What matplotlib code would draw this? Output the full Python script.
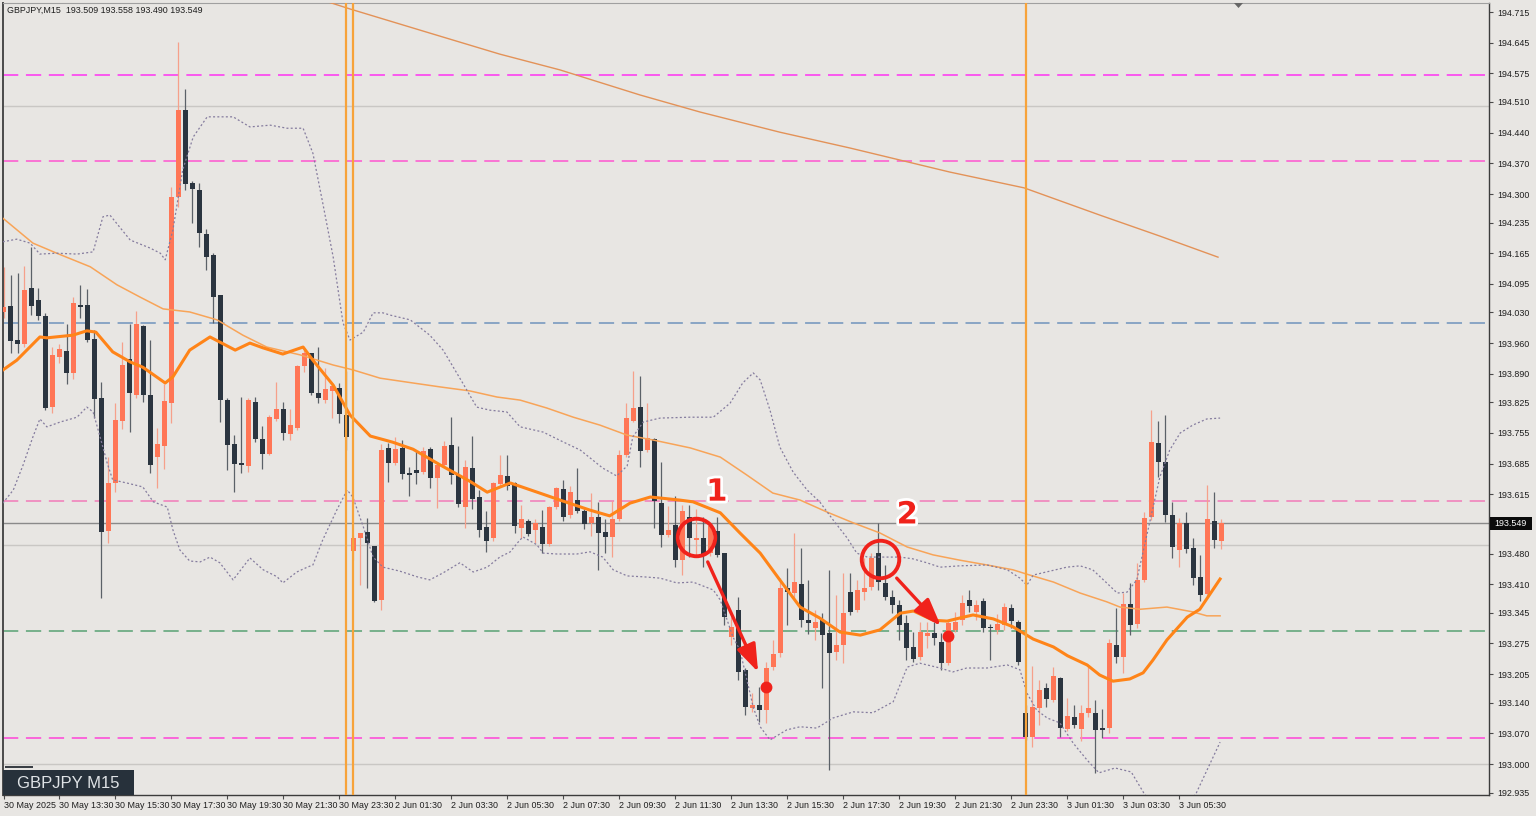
import matplotlib
matplotlib.use("Agg")
import matplotlib.pyplot as plt
import matplotlib.patheffects as pe
from matplotlib.patches import Rectangle, FancyArrowPatch, Polygon

# GBPJPY M15, bar 0 = 30 May 11:30, one bar every 15 minutes (weekend skipped)
opens = [194.031, 194.044, 193.967, 193.958, 194.086, 194.058, 194.022, 193.814, 193.928, 193.942,
         193.892, 194.047, 194.047, 193.969, 193.835, 193.531, 193.641, 193.782, 193.924, 193.842,
         193.999, 193.842, 193.700, 193.725, 193.823, 194.293, 194.492, 194.325, 194.309, 194.209,
         194.161, 194.070, 193.830, 193.730, 193.687, 193.680, 193.826, 193.741, 193.707, 193.787,
         193.810, 193.753, 193.766, 193.908, 193.937, 193.846, 193.830, 193.851, 193.858, 193.796,
         193.486, 193.516, 193.529, 193.497, 193.374, 193.721, 193.687, 193.721, 193.664, 193.671,
         193.666, 193.718, 193.652, 193.682, 193.728, 193.659, 193.586, 193.675, 193.609, 193.541,
         193.516, 193.639, 193.657, 193.641, 193.538, 193.554, 193.534, 193.541, 193.502, 193.586,
         193.627, 193.568, 193.602, 193.577, 193.550, 193.563, 193.529, 193.518, 193.559, 193.705,
         193.782, 193.814, 193.716, 193.741, 193.595, 193.522, 193.545, 193.465, 193.563, 193.511,
         193.516, 193.481, 193.532, 193.481, 193.290, 193.351, 193.215, 193.128, 193.135, 193.123,
         193.221, 193.253, 193.402, 193.390, 193.411, 193.328, 193.310, 193.328, 193.299, 193.256,
         193.272, 193.393, 193.351, 193.393, 193.404, 193.481, 193.413, 193.381, 193.363, 193.322,
         193.267, 193.244, 193.292, 193.299, 193.278, 193.230, 193.306, 193.328, 193.374, 193.347,
         193.372, 193.313, 193.306, 193.317, 193.356, 193.324, 193.116, 193.062, 193.128, 193.174,
         193.146, 193.196, 193.080, 193.107, 193.080, 193.116, 193.116, 193.082, 193.082, 193.272,
         193.244, 193.365, 193.319, 193.420, 193.563, 193.732, 193.689, 193.568, 193.488, 193.550,
         193.493, 193.427, 193.388, 193.554, 193.509]
highs = [194.134, 194.115, 194.120, 194.136, 194.179, 194.086, 194.029, 193.951, 193.958, 194.004,
         194.065, 194.092, 194.083, 193.990, 193.871, 193.700, 193.823, 193.962, 194.004, 194.033,
         194.001, 193.967, 193.766, 193.867, 194.316, 194.647, 194.539, 194.330, 194.325, 194.220,
         194.165, 194.070, 193.835, 193.750, 193.837, 193.835, 193.837, 193.771, 193.796, 193.871,
         193.826, 193.810, 193.910, 193.949, 193.937, 193.951, 193.903, 193.869, 193.869, 193.896,
         193.523, 193.527, 193.561, 193.497, 193.730, 193.732, 193.746, 193.739, 193.677, 193.714,
         193.723, 193.723, 193.687, 193.737, 193.791, 193.725, 193.693, 193.748, 193.625, 193.577,
         193.643, 193.705, 193.705, 193.643, 193.591, 193.559, 193.559, 193.579, 193.589, 193.632,
         193.648, 193.634, 193.675, 193.582, 193.618, 193.598, 193.559, 193.600, 193.716, 193.823,
         193.896, 193.885, 193.823, 193.744, 193.689, 193.589, 193.611, 193.591, 193.591, 193.582,
         193.563, 193.547, 193.563, 193.481, 193.335, 193.381, 193.219, 193.162, 193.176, 193.233,
         193.283, 193.424, 193.447, 193.527, 193.493, 193.420, 193.351, 193.344, 193.443, 193.385,
         193.436, 193.436, 193.420, 193.470, 193.481, 193.550, 193.454, 193.397, 193.374, 193.340,
         193.301, 193.324, 193.324, 193.324, 193.299, 193.328, 193.347, 193.385, 193.397, 193.374,
         193.379, 193.319, 193.342, 193.367, 193.365, 193.328, 193.135, 193.224, 193.192, 193.185,
         193.221, 193.199, 193.151, 193.135, 193.135, 193.221, 193.146, 193.126, 193.285, 193.356,
         193.390, 193.413, 193.459, 193.575, 193.807, 193.782, 193.796, 193.598, 193.561, 193.575,
         193.516, 193.477, 193.636, 193.620, 193.558]
lows = [194.017, 193.937, 193.937, 193.951, 194.024, 194.013, 193.807, 193.800, 193.915, 193.867,
        193.878, 194.017, 193.962, 193.789, 193.379, 193.504, 193.620, 193.764, 193.757, 193.835,
        193.826, 193.664, 193.630, 193.673, 193.778, 194.270, 194.309, 194.234, 194.179, 194.127,
        194.006, 193.780, 193.671, 193.620, 193.664, 193.666, 193.734, 193.673, 193.705, 193.782,
        193.739, 193.739, 193.762, 193.894, 193.842, 193.823, 193.823, 193.789, 193.778, 193.716,
        193.465, 193.408, 193.402, 193.370, 193.351, 193.643, 193.682, 193.650, 193.611, 193.639,
        193.661, 193.630, 193.584, 193.677, 193.639, 193.586, 193.538, 193.582, 193.518, 193.484,
        193.509, 193.634, 193.625, 193.527, 193.516, 193.520, 193.504, 193.481, 193.497, 193.582,
        193.554, 193.561, 193.573, 193.536, 193.520, 193.443, 193.481, 193.472, 193.554, 193.700,
        193.780, 193.677, 193.712, 193.538, 193.495, 193.518, 193.449, 193.431, 193.472, 193.472,
        193.449, 193.474, 193.472, 193.317, 193.272, 193.192, 193.112, 193.119, 193.096, 193.094,
        193.215, 193.244, 193.317, 193.379, 193.313, 193.297, 193.283, 193.173, 192.986, 193.237,
        193.230, 193.340, 193.347, 193.374, 193.397, 193.397, 193.374, 193.344, 193.283, 193.237,
        193.233, 193.237, 193.265, 193.272, 193.215, 193.226, 193.301, 193.317, 193.347, 193.328,
        193.301, 193.237, 193.297, 193.306, 193.310, 193.226, 193.055, 193.039, 193.089, 193.130,
        193.142, 193.062, 193.075, 193.082, 193.053, 193.107, 192.980, 193.059, 193.071, 193.230,
        193.208, 193.294, 193.310, 193.415, 193.557, 193.655, 193.552, 193.470, 193.449, 193.481,
        193.408, 193.372, 193.383, 193.493, 193.490]
closes = [194.042, 193.965, 193.958, 194.081, 194.044, 194.022, 193.812, 193.933, 193.947, 193.892,
          194.051, 194.042, 193.967, 193.832, 193.529, 193.641, 193.785, 193.910, 193.846, 194.004,
          193.842, 193.682, 193.730, 193.828, 194.293, 194.492, 194.323, 194.311, 194.211, 194.156,
          194.065, 193.830, 193.728, 193.684, 193.682, 193.830, 193.741, 193.707, 193.791, 193.810,
          193.755, 193.773, 193.908, 193.937, 193.846, 193.835, 193.855, 193.862, 193.798, 193.746,
          193.516, 193.527, 193.504, 193.372, 193.716, 193.687, 193.718, 193.661, 193.659, 193.664,
          193.714, 193.652, 193.682, 193.725, 193.659, 193.593, 193.677, 193.604, 193.534, 193.509,
          193.641, 193.659, 193.634, 193.543, 193.559, 193.525, 193.550, 193.502, 193.586, 193.630,
          193.563, 193.620, 193.577, 193.547, 193.563, 193.527, 193.518, 193.559, 193.705, 193.789,
          193.812, 193.714, 193.744, 193.600, 193.522, 193.534, 193.465, 193.577, 193.516, 193.516,
          193.477, 193.543, 193.477, 193.335, 193.313, 193.210, 193.130, 193.135, 193.123, 193.219,
          193.251, 193.402, 193.393, 193.415, 193.328, 193.321, 193.324, 193.294, 193.253, 193.272,
          193.344, 193.347, 193.397, 193.402, 193.470, 193.415, 193.381, 193.363, 193.317, 193.265,
          193.240, 193.301, 193.299, 193.288, 193.230, 193.322, 193.324, 193.367, 193.360, 193.363,
          193.310, 193.310, 193.319, 193.358, 193.326, 193.233, 193.062, 193.130, 193.169, 193.148,
          193.201, 193.082, 193.110, 193.089, 193.116, 193.128, 193.078, 193.078, 193.276, 193.244,
          193.365, 193.317, 193.420, 193.561, 193.735, 193.689, 193.568, 193.495, 193.550, 193.490,
          193.424, 193.386, 193.559, 193.511, 193.549]

# indicator lines, read as (bar, price) points
ma_fast_x = [-0.5, 1.9, 5.2, 6.2, 9.9, 11.9, 13.2, 15.6, 18.1, 19.9, 23.1, 24.2, 26.6, 29.5, 33.1, 35.2,
             37.1, 39.9, 42.8, 44.2, 47.1, 49.5, 52.4, 55.6, 58.5, 62.4, 66.6, 69.1, 72.4, 76.6, 79.5,
             83.8, 86.6, 89.5, 92.4, 96.6, 98.5, 102.4, 105.2, 108.1, 110.9, 113.8, 116.6, 119.5,
             122.4, 125.2, 128.1, 130.0, 132.8, 134.8, 136.6, 138.5, 141.4, 144.2, 147.1, 150.0,
             152.0, 154.8, 156.6, 158.5, 160.9, 162.8, 164.2, 166.2, 169.1, 170.9, 173.8]
ma_fast_y = [193.894, 193.921, 193.974, 193.972, 193.978, 193.988, 193.985, 193.940, 193.917, 193.905,
             193.869, 193.883, 193.944, 193.974, 193.944, 193.960, 193.949, 193.935, 193.951, 193.921,
             193.864, 193.796, 193.748, 193.734, 193.718, 193.682, 193.645, 193.620, 193.641, 193.618,
             193.602, 193.579, 193.566, 193.595, 193.609, 193.602, 193.598, 193.573, 193.527, 193.481,
             193.420, 193.358, 193.333, 193.301, 193.294, 193.306, 193.344, 193.349, 193.328, 193.326,
             193.333, 193.340, 193.331, 193.313, 193.285, 193.267, 193.247, 193.226, 193.203, 193.189,
             193.194, 193.208, 193.237, 193.283, 193.335, 193.353, 193.422]
ma_mid_x = [-0.1, 4.2, 7.6, 12.4, 16.2, 19.5, 22.8, 26.6, 30.5, 34.2, 37.6, 42.4, 47.1, 49.9, 53.8,
            58.5, 62.4, 66.6, 70.5, 73.8, 77.6, 81.4, 85.2, 89.1, 92.8, 98.1, 102.4, 106.2, 109.9,
            113.8, 117.6, 121.4, 125.2, 129.1, 132.8, 136.6, 140.5, 144.2, 146.2, 150.0, 153.8,
            157.6, 159.5, 162.4, 166.2, 169.9, 171.9, 173.8]
ma_mid_y = [194.245, 194.188, 194.165, 194.134, 194.093, 194.065, 194.038, 194.031, 194.013, 193.978,
            193.951, 193.933, 193.910, 193.899, 193.880, 193.869, 193.860, 193.851, 193.837, 193.830,
            193.812, 193.791, 193.773, 193.750, 193.739, 193.721, 193.700, 193.659, 193.618, 193.602,
            193.575, 193.550, 193.527, 193.495, 193.477, 193.465, 193.454, 193.443, 193.433, 193.415,
            193.390, 193.370, 193.358, 193.353, 193.358, 193.347, 193.338, 193.338]
ma_slow_x = [45.0, 49.5, 60.9, 70.9, 79.5, 90.9, 99.5, 110.9, 120.9, 135.2, 145.8, 156.6, 165.2, 173.5]
ma_slow_y = [194.745, 194.722, 194.667, 194.619, 194.583, 194.526, 194.487, 194.441, 194.405, 194.350,
             194.314, 194.252, 194.204, 194.156]
bb_up_x = [-0.1, 1.9, 3.8, 5.2, 7.6, 10.5, 12.8, 14.2, 15.2, 18.1, 20.9, 22.4, 23.1, 24.2, 25.6, 27.1,
           29.1, 30.9, 32.8, 35.2, 38.1, 40.5, 42.8, 44.2, 45.6, 47.1, 48.5, 49.5, 51.4, 52.8, 54.2,
           55.2, 58.1, 60.9, 62.8, 65.6, 67.6, 69.5, 71.9, 73.8, 77.1, 79.9, 82.4, 84.2, 85.6, 87.6,
           89.1, 89.9, 91.4, 93.8, 98.1, 101.4, 103.8, 105.6, 107.1, 108.1, 109.5, 110.9, 112.8,
           114.8, 116.6, 118.5, 120.5, 121.9, 123.4, 128.1, 129.9, 131.9, 133.8, 136.6, 140.5, 143.4,
           145.2, 146.2, 147.1, 149.5, 151.9, 153.8, 155.6, 157.6, 159.1, 160.5, 161.9, 163.4, 165.2,
           166.6, 168.1, 169.9, 171.9, 173.8]
bb_up_y = [194.191, 194.197, 194.188, 194.163, 194.165, 194.163, 194.168, 194.248, 194.252, 194.195,
           194.177, 194.165, 194.150, 194.218, 194.355, 194.430, 194.476, 194.476, 194.476, 194.453,
           194.457, 194.450, 194.450, 194.393, 194.280, 194.156, 194.006, 193.967, 193.985, 194.029,
           194.029, 194.024, 194.013, 193.978, 193.944, 193.869, 193.814, 193.807, 193.803, 193.769,
           193.757, 193.735, 193.716, 193.693, 193.675, 193.657, 193.680, 193.746, 193.780, 193.789,
           193.791, 193.791, 193.823, 193.869, 193.892, 193.876, 193.807, 193.723, 193.666, 193.625,
           193.598, 193.557, 193.516, 193.481, 193.472, 193.472, 193.468, 193.459, 193.449, 193.452,
           193.454, 193.443, 193.424, 193.408, 193.431, 193.440, 193.449, 193.452, 193.443, 193.413,
           193.390, 193.392, 193.420, 193.527, 193.655, 193.716, 193.755, 193.773, 193.787, 193.789]
bb_lo_x = [-0.1, 1.4, 2.8, 4.2, 5.2, 6.2, 8.1, 10.5, 11.9, 12.8, 13.8, 14.8, 15.6, 17.6, 19.9, 21.4,
           23.4, 24.2, 25.2, 26.6, 28.1, 29.5, 30.9, 32.8, 35.2, 37.1, 39.1, 39.9, 41.9, 43.4, 44.2,
           45.6, 47.6, 49.1, 49.9, 51.4, 52.8, 54.2, 56.6, 59.1, 60.9, 62.8, 65.2, 67.1, 69.1, 70.9,
           72.4, 73.4, 74.2, 76.2, 77.1, 79.1, 81.9, 83.8, 85.6, 87.1, 89.1, 91.4, 93.8, 96.2, 98.5,
           101.4, 102.4, 104.2, 105.2, 106.2, 107.1, 108.1, 109.5, 111.9, 113.8, 116.2, 118.5, 121.4,
           124.2, 127.1, 129.1, 130.9, 133.8, 135.6, 137.6, 140.5, 143.4, 145.2, 146.2, 147.6, 149.1,
           150.9, 152.8, 154.8, 156.5, 158.8, 161.1, 162.9, 165.2, 168.1, 170.4, 172.6, 173.8]
bb_lo_y = [193.595, 193.625, 193.682, 193.746, 193.787, 193.769, 193.780, 193.791, 193.814, 193.803,
           193.746, 193.687, 193.648, 193.641, 193.632, 193.598, 193.586, 193.534, 193.488, 193.463,
           193.461, 193.472, 193.459, 193.420, 193.470, 193.443, 193.427, 193.413, 193.438, 193.449,
           193.454, 193.511, 193.579, 193.625, 193.609, 193.541, 193.472, 193.449, 193.440, 193.427,
           193.420, 193.436, 193.459, 193.438, 193.449, 193.472, 193.484, 193.504, 193.518, 193.500,
           193.481, 193.479, 193.479, 193.484, 193.472, 193.443, 193.429, 193.427, 193.424, 193.413,
           193.415, 193.397, 193.374, 193.290, 193.260, 193.192, 193.130, 193.085, 193.055, 193.078,
           193.085, 193.082, 193.105, 193.119, 193.117, 193.142, 193.221, 193.230, 193.219, 193.210,
           193.219, 193.219, 193.226, 193.215, 193.162, 193.123, 193.105, 193.094, 193.048, 193.009,
           192.980, 192.991, 192.982, 192.934, 192.884, 192.884, 192.934, 193.009, 193.050]

# horizontal levels drawn on the chart
level_prices = [194.571, 194.375, 194.006, 193.600, 193.303, 193.060]
level_colors = ['#ff33f2', '#ff55d0', '#6f93bd', '#f27ab8', '#58a274', '#ff44d8']
grid_prices = [194.500, 193.500, 193.000]
last_price = 193.549
separator_bars = [49, 50, 146]

price_ticks = [194.715, 194.645, 194.575, 194.510, 194.440, 194.370, 194.300, 194.235, 194.165,
               194.095, 194.030, 193.960, 193.890, 193.825, 193.755, 193.685, 193.615, 193.480,
               193.410, 193.345, 193.275, 193.205, 193.140, 193.070, 193.000, 192.935]
time_ticks = [0, 8, 16, 24, 32, 40, 48, 56, 64, 72, 80, 88, 96, 104, 112, 120, 128, 136, 144, 152, 160, 168]
time_labels = ["30 May 2025", "30 May 13:30", "30 May 15:30", "30 May 17:30", "30 May 19:30",
               "30 May 21:30", "30 May 23:30", "2 Jun 01:30", "2 Jun 03:30", "2 Jun 05:30",
               "2 Jun 07:30", "2 Jun 09:30", "2 Jun 11:30", "2 Jun 13:30", "2 Jun 15:30",
               "2 Jun 17:30", "2 Jun 19:30", "2 Jun 21:30", "2 Jun 23:30", "3 Jun 01:30",
               "3 Jun 03:30", "3 Jun 05:30"]

# hand drawn notes: circles, arrows, dots, numbers
circle_x = [98.9, 125.2]
circle_y = [193.518, 193.468]
note_labels = ["1", "2"]
note_x = [101.9, 129.1]
note_y = [193.620, 193.568]
arrow_from = [(100.6, 193.461), (127.6, 193.424)]
arrow_to = [(107.8, 193.210), (133.9, 193.315)]
dot_x = [108.9, 134.9]
dot_y = [193.176, 193.292]

BG = '#e8e6e3'
BULL, BULL_WICK = '#ff7656', '#f6a08b'
BEAR, BEAR_WICK = '#2b3540', '#5b6168'
RED = '#f0221b'
W, H = 1536, 816

plt.rcParams['font.family'] = ['Liberation Sans', 'DejaVu Sans']


def fpx(x, y):
    # pixel (from top-left) -> figure fraction
    return x / W, 1 - y / H


fig = plt.figure(figsize=(W / 100, H / 100), dpi=100, facecolor=BG)
ax = fig.add_axes([3 / W, (H - 795) / H, 1486 / W, 792 / H], facecolor=BG)
ax.set_xlim(-0.5 / 7, 1485.5 / 7)
ax.set_ylim(192.9294, 194.7356)

for p in grid_prices:
    ax.axhline(p, color='#c9c7c4', lw=1.0, zorder=1)
for p, c in zip(level_prices, level_colors):
    ax.axhline(p, color=c, lw=1.1, dashes=(10, 5), zorder=1)
ax.axhline(last_price, color='#8a8a8a', lw=1.0, zorder=1)

# candles
xs = list(range(len(opens)))
for i in xs:
    o, h, l, c = opens[i], highs[i], lows[i], closes[i]
    up = c >= o
    ax.vlines(i, l, h, color=BULL_WICK if up else BEAR_WICK, lw=0.9, zorder=2)
    ax.bar(i, max(abs(c - o), 0.0025), bottom=min(o, c), width=0.72,
           color=BULL if up else BEAR, linewidth=0, zorder=3)

ax.plot(ma_slow_x, ma_slow_y, color='#e39258', lw=1.0, zorder=4)
ax.plot(ma_mid_x, ma_mid_y, color='#f8a458', lw=1.1, zorder=4)
ax.plot(ma_fast_x, ma_fast_y, color='#ff8418', lw=2.2, zorder=4)
ax.plot(bb_up_x, bb_up_y, color='#857c9e', lw=0.9, dashes=(1.6, 1.8), zorder=4)
ax.plot(bb_lo_x, bb_lo_y, color='#857c9e', lw=0.9, dashes=(1.6, 1.8), zorder=4)

for b in separator_bars:
    ax.axvline(b, color='#f7a33a', lw=1.6, zorder=4)

# annotations
ax.plot(circle_x, circle_y, 'o', ms=27, mfc='none', mec=RED, mew=2.8, zorder=6)
for t, x, y in zip(note_labels, note_x, note_y):
    ax.text(x, y, t, color=RED, fontsize=22, fontweight='bold', ha='center', va='center',
            family='DejaVu Sans', zorder=7,
            path_effects=[pe.withStroke(linewidth=4, foreground='white')])
for a, b in zip(arrow_from, arrow_to):
    ax.add_patch(FancyArrowPatch(a, b, arrowstyle='-|>,head_length=0.7,head_width=0.25',
                                 mutation_scale=24, lw=2.4,
                                 color=RED, shrinkA=0, shrinkB=0, zorder=6))
ax.plot(dot_x, dot_y, 'o', ms=7.5, color=RED, zorder=6)

# axes look of the terminal
ax.yaxis.tick_right()
ax.set_yticks(price_ticks)
ax.set_yticklabels([f"{p:.3f}" for p in price_ticks])
ax.set_xticks(time_ticks)
ax.set_xticklabels(time_labels, ha='left')
ax.tick_params(axis='y', direction='out', length=3, width=0.8, pad=3, labelsize=6.4,
               colors='#4a4a4a', labelcolor='#1e1e1e')
ax.tick_params(axis='x', direction='out', length=3, width=0.8, pad=1.0, labelsize=6.4,
               colors='#4a4a4a', labelcolor='#1e1e1e')
for side, col, lw in [('left', '#4a4a4a', 1.4), ('bottom', '#3c3c3c', 1.0),
                      ('right', '#3c3c3c', 1.0), ('top', '#a0a0a0', 0.8)]:
    ax.spines[side].set_color(col)
    ax.spines[side].set_linewidth(lw)

fig.text(*fpx(7, 10), "GBPJPY,M15  193.509 193.558 193.490 193.549", fontsize=6.4,
         color='#1e1e1e', va='center')

# symbol badge, price tag, shift marker
fig.add_artist(Rectangle(fpx(3, 795), 131 / W, 25 / H, transform=fig.transFigure,
                         facecolor='#27313b', edgecolor='none', zorder=8))
fig.add_artist(Rectangle(fpx(5, 768), 28 / W, 2 / H, transform=fig.transFigure,
                         facecolor='#3a3f45', edgecolor='none', zorder=8))
fig.text(*fpx(17, 783), "GBPJPY M15", fontsize=12, color='#dfe3e6', va='center', zorder=9)
fig.add_artist(Rectangle(fpx(1490, 529.5), 42 / W, 13 / H, transform=fig.transFigure,
                         facecolor='#0b0b0b', edgecolor='none', zorder=8))
fig.text(*fpx(1494, 523), f"{last_price:.3f}", fontsize=6.4, color='white', va='center', zorder=9)
fig.add_artist(Polygon([fpx(1234, 3), fpx(1243, 3), fpx(1238.5, 8)], closed=True,
                       transform=fig.transFigure, facecolor='#666666', edgecolor='none', zorder=8))

fig.savefig("out.png", dpi=100, facecolor=BG)
